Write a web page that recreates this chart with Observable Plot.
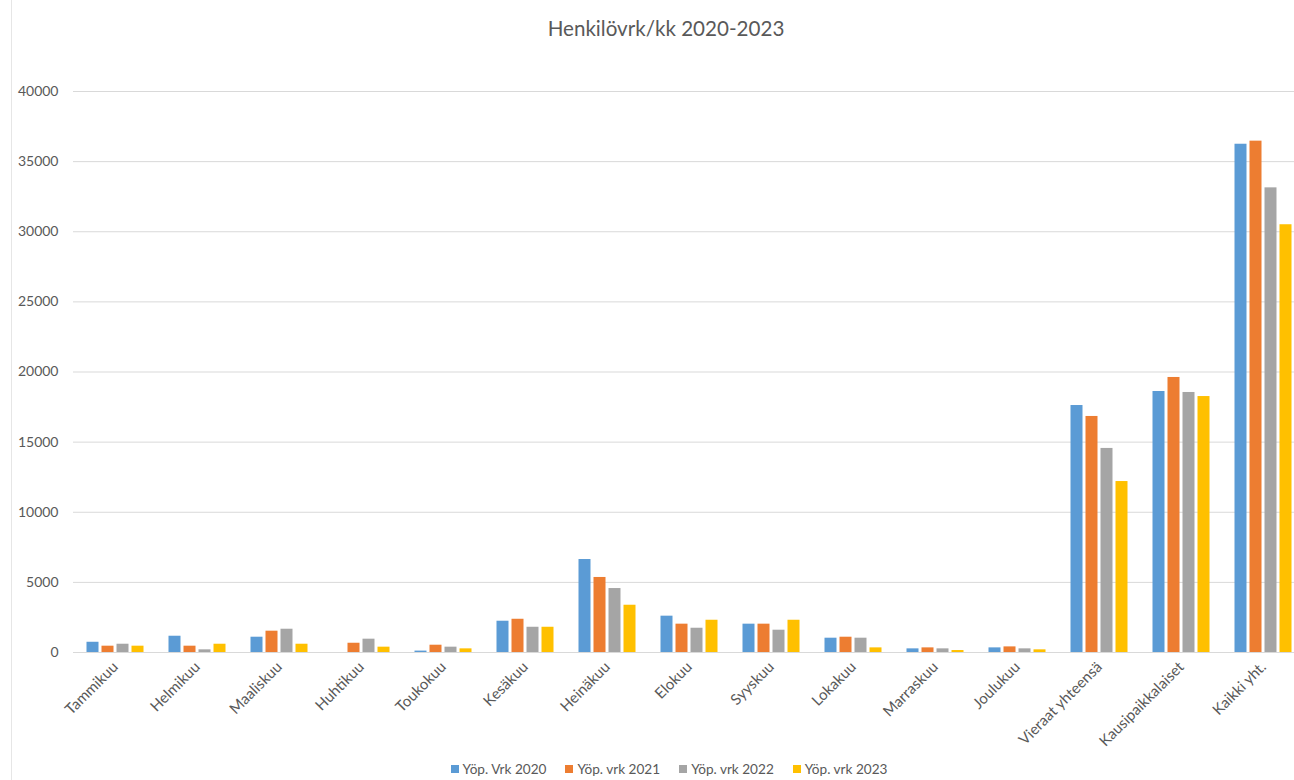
<!DOCTYPE html>
<html>
<head>
<meta charset="utf-8">
<script src="https://cdn.jsdelivr.net/npm/d3@7"></script>
<script src="https://cdn.jsdelivr.net/npm/@observablehq/plot@0.6"></script>
<style>
  html, body { margin: 0; padding: 0; background: #fff; overflow: hidden; }
  #wrap { position: relative; width: 1294px; height: 780px; font-family: Lato, "Open Sans", sans-serif; }
  #edge { position: absolute; left: 11px; top: 0; height: 780px; border-left: 1px solid #e6e6e6; }
  #title { position: absolute; top: 16px; left: 19px; width: 1294px; text-align: center; font-size: 20.6px; color: #595959; }
  #chart { position: absolute; top: 60px; left: 0; }
  #legend { position: absolute; top: 761px; left: 22px; width: 1294px; display: flex; justify-content: center; gap: 19px; font-size: 13.6px; color: #595959; }
  #legend span.item { display: inline-flex; align-items: center; }
  #legend i { display: inline-block; width: 8px; height: 8px; margin-right: 4px; }
</style>
</head>
<body>
<div id="wrap">
  <div id="edge"></div>
  <div id="title">Henkilövrk/kk 2020-2023</div>
  <div id="chart"></div>
  <div id="legend"></div>
</div>
<script>
const categories = ["Tammikuu","Helmikuu","Maaliskuu","Huhtikuu","Toukokuu","Kesäkuu","Heinäkuu","Elokuu","Syyskuu","Lokakuu","Marraskuu","Joulukuu","Vieraat yhteensä","Kausipaikkalaiset","Kaikki yht."];
const seriesNames = ["Yöp. Vrk 2020","Yöp. vrk 2021","Yöp. vrk 2022","Yöp. vrk 2023"];
const v2020 = [730,1160,1090,0,100,2230,6630,2590,2020,1020,260,330,17610,18610,36240];
const v2021 = [450,450,1520,660,520,2370,5350,2020,2020,1090,330,400,16830,19610,36460];
const v2022 = [590,190,1660,950,380,1800,4560,1730,1590,1020,260,260,14550,18540,33130];
const v2023 = [450,590,590,380,260,1800,3370,2300,2300,330,140,190,12190,18250,30500];
const yTicks = [0,5000,10000,15000,20000,25000,30000,35000,40000];
const colors = ["#5B9BD5","#ED7D31","#A5A5A5","#FFC000"];

const seriesValues = [v2020, v2021, v2022, v2023];
const rows = [];
seriesValues.forEach((vals, si) => {
  vals.forEach((v, ci) => rows.push({category: categories[ci], series: seriesNames[si], value: v}));
});

const barMarks = seriesNames.map((s, si) =>
  Plot.barY(rows.filter(d => d.series === s), {
    x: "category", y: "value", fill: colors[si], dx: (si - 1.5) * 15
  })
);

const chart = Plot.plot({
  width: 1294,
  height: 700,
  marginLeft: 73,
  marginRight: -11,
  marginTop: 31,
  marginBottom: 108,
  style: {fontFamily: "Lato, 'Open Sans', sans-serif", fontSize: "14px", color: "#595959", background: "transparent"},
  x: {domain: categories, paddingInner: 0.854, paddingOuter: 0.427, label: null},
  y: {domain: [0, 40000], label: null},
  marks: [
    Plot.gridY(yTicks, {stroke: "#d9d9d9", strokeOpacity: 1}),
    ...barMarks,
    Plot.axisY(yTicks, {tickSize: 0, tickPadding: 15, label: null, tickFormat: d => String(d), fill: "#595959", fontSize: 14}),
    Plot.axisX({tickSize: 0, tickRotate: -45, tickPadding: 12, label: null, fill: "#595959", fontSize: 15})
  ]
});
document.getElementById("chart").appendChild(chart);

const legend = document.getElementById("legend");
seriesNames.forEach((s, i) => {
  const item = document.createElement("span");
  item.className = "item";
  const sw = document.createElement("i");
  sw.style.background = colors[i];
  item.appendChild(sw);
  item.appendChild(document.createTextNode(s));
  legend.appendChild(item);
});
</script>
</body>
</html>
